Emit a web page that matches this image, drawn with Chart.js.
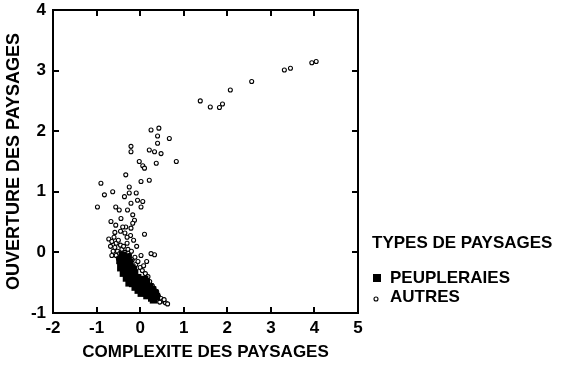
<!DOCTYPE html>
<html>
<head>
<meta charset="utf-8">
<script src="https://cdn.jsdelivr.net/npm/chart.js@4/dist/chart.umd.min.js"></script>
<style>
  html, body { margin: 0; padding: 0; background: #fff; }
  #wrap { width: 563px; height: 366px; }
</style>
</head>
<body>
<div id="wrap"><canvas id="chart" width="563" height="366"></canvas></div>
<script>
// axis ranges and tick values
const X_TICKS = [-2, -1, 0, 1, 2, 3, 4, 5];
const Y_TICKS = [-1, 0, 1, 2, 3, 4];

const LEGEND_TITLE = 'TYPES DE PAYSAGES';
const SERIES_NAMES = ['PEUPLERAIES', 'AUTRES'];

// peupleraies (filled squares)
const peupX = [-0.40, -0.34, -0.46, -0.28, -0.40, -0.32, -0.24, -0.44, -0.35, -0.27, -0.19, -0.38,
    -0.29, -0.21, -0.13, -0.31, -0.23, -0.14, -0.06, -0.25, -0.17, -0.07, 0.02, -0.11,
    -0.01, 0.08, 0.14, -0.04, 0.06, 0.14, 0.22, 0.03, 0.12, 0.20, 0.28, 0.16, 0.25,
    0.33, 0.27, 0.37, 0.04, -0.20, -0.36, -0.16, 0.10, 0.31];
const peupY = [-0.05, -0.09, -0.13, -0.08, -0.19, -0.21, -0.17, -0.25, -0.28, -0.30, -0.26, -0.34,
    -0.36, -0.38, -0.34, -0.42, -0.44, -0.45, -0.42, -0.50, -0.51, -0.50, -0.47, -0.57,
    -0.56, -0.54, -0.50, -0.62, -0.61, -0.60, -0.57, -0.67, -0.66, -0.64, -0.62, -0.71, -0.69,
    -0.67, -0.75, -0.73, -0.58, -0.42, -0.16, -0.30, -0.45, -0.78];

// autres (open circles)
const autX = [1.38, 1.61, 1.82, 1.89, 2.07, 2.56, 3.31, 3.45, 3.94, 4.04,
    0.25, 0.43, 0.40, 0.67, 0.40, -0.21, -0.21, 0.21, 0.33, 0.48, -0.02, 0.06, 0.83, 0.37,
    0.10, -0.33, 0.02, -0.90, -0.82, -0.63, -0.25, -0.25, -0.36, -0.09, -0.06, 0.06,
    -0.98, -0.56, -0.48, -0.29, -0.21, -0.17, 0.02, -0.44, -0.13, -0.56, -0.33, -0.21,
    -0.67, -0.17, 0.21,
    -0.72, -0.65, -0.60, -0.55, -0.68, -0.58, -0.50, -0.45, -0.62, -0.52, -0.42, -0.55,
    -0.47, -0.38, -0.35, -0.30, -0.28, -0.25, -0.20, -0.18, -0.12, -0.10, -0.05, 0.00,
    0.05, 0.08, 0.12, 0.18, 0.22, 0.28, 0.32, 0.38, 0.42, 0.48, 0.52, 0.58, 0.63, 0.55,
    0.45, -0.15, -0.22, -0.35, -0.45, -0.30, -0.58, -0.40, 0.10, 0.33, 0.25, -0.08,
    -0.65, -0.50, 0.15, 0.02];
const autY = [2.50, 2.40, 2.39, 2.45, 2.68, 2.82, 3.01, 3.04, 3.13, 3.15,
    2.02, 2.05, 1.92, 1.88, 1.80, 1.75, 1.66, 1.69, 1.66, 1.63, 1.50, 1.43, 1.50, 1.47,
    1.39, 1.28, 1.17, 1.14, 0.95, 1.00, 1.08, 0.98, 0.92, 0.98, 0.86, 0.84,
    0.75, 0.75, 0.70, 0.70, 0.81, 0.62, 0.75, 0.56, 0.53, 0.45, 0.42, 0.40,
    0.51, 0.48, 1.19,
    0.22, 0.18, 0.25, 0.15, 0.10, 0.08, 0.20, 0.12, 0.02, 0.02, 0.05, -0.05,
    -0.02, 0.10, 0.00, 0.15, 0.05, -0.05, 0.02, -0.12, -0.08, -0.20, -0.15, -0.25,
    -0.30, -0.22, -0.35, -0.40, -0.48, -0.55, -0.60, -0.65, -0.72, -0.76, -0.80, -0.83, -0.85, -0.78,
    -0.82, 0.20, 0.28, 0.32, 0.35, 0.25, 0.33, 0.42, 0.30, -0.04, -0.02, 0.10,
    -0.05, -0.10, -0.15, -0.05];

function toPoints(xs, ys) {
    return xs.map((x, i) => ({ x, y: ys[i] }));
}

const FONT = "'Liberation Sans', Arial, sans-serif";

// inward ticks on all four sides plus the frame
const framePlugin = {
    id: 'frame',
    afterDraw(chart) {
        const { ctx, chartArea: a, scales } = chart;
        const len = 6;
        ctx.save();
        ctx.strokeStyle = '#000';
        ctx.lineWidth = 2;
        ctx.strokeRect(a.left, a.top, a.right - a.left, a.bottom - a.top);
        ctx.beginPath();
        X_TICKS.forEach((v) => {
            const px = Math.round(scales.x.getPixelForValue(v));
            ctx.moveTo(px, a.bottom); ctx.lineTo(px, a.bottom - len);
            ctx.moveTo(px, a.top); ctx.lineTo(px, a.top + len);
        });
        Y_TICKS.forEach((v) => {
            const py = Math.round(scales.y.getPixelForValue(v));
            ctx.moveTo(a.left, py); ctx.lineTo(a.left + len, py);
            ctx.moveTo(a.right, py); ctx.lineTo(a.right - len, py);
        });
        ctx.stroke();
        ctx.restore();
    },
};

// legend at the right of the plot
const legendPlugin = {
    id: 'sideLegend',
    afterDraw(chart) {
        const { ctx } = chart;
        const x0 = chart.chartArea.right + 14;
        ctx.save();
        ctx.fillStyle = '#000';
        ctx.textBaseline = 'middle';
        ctx.font = `bold 17px ${FONT}`;
        ctx.fillText(LEGEND_TITLE, x0, 243);
        ctx.fillText(SERIES_NAMES[0], x0 + 18, 278);
        ctx.fillText(SERIES_NAMES[1], x0 + 18, 297);
        ctx.fillRect(x0 + 1, 274, 8, 8);
        ctx.lineWidth = 1.1;
        ctx.beginPath();
        ctx.arc(x0 + 4, 299, 2, 0, Math.PI * 2);
        ctx.stroke();
        ctx.restore();
    },
};

new Chart(document.getElementById('chart'), {
    type: 'scatter',
    data: {
        datasets: [
            {
                label: SERIES_NAMES[0],
                data: toPoints(peupX, peupY),
                pointStyle: 'rect',
                pointRadius: 5.5,
                backgroundColor: '#000',
                borderColor: '#000',
                borderWidth: 0,
            },
            {
                label: SERIES_NAMES[1],
                data: toPoints(autX, autY),
                pointStyle: 'circle',
                pointRadius: 2,
                backgroundColor: '#fff',
                borderColor: '#000',
                borderWidth: 1.1,
            },
        ],
    },
    options: {
        responsive: false,
        animation: false,
        events: [],
        layout: { padding: { top: 10, right: 205, left: 0, bottom: 0 } },
        plugins: { legend: { display: false }, tooltip: { enabled: false } },
        scales: {
            x: {
                type: 'linear',
                min: -2, max: 5,
                afterBuildTicks: (s) => { s.ticks = X_TICKS.map((v) => ({ value: v })); },
                afterFit: (s) => { s.height = 53; s.paddingLeft = 0; s.paddingRight = 0; },
                grid: { display: false, drawTicks: false },
                border: { display: false },
                ticks: { color: '#000', padding: 5, font: { family: FONT, size: 17, weight: 'bold' } },
                title: {
                    display: true,
                    text: 'COMPLEXITE DES PAYSAGES',
                    color: '#000',
                    padding: { top: 0, bottom: 3 },
                    font: { family: FONT, size: 17, weight: 'bold' },
                },
            },
            y: {
                type: 'linear',
                min: -1, max: 4,
                afterBuildTicks: (s) => { s.ticks = Y_TICKS.map((v) => ({ value: v })); },
                afterFit: (s) => { s.width = 53; s.paddingTop = 0; s.paddingBottom = 0; },
                grid: { display: false, drawTicks: false },
                border: { display: false },
                ticks: { color: '#000', padding: 7, font: { family: FONT, size: 17, weight: 'bold' } },
                title: {
                    display: true,
                    text: 'OUVERTURE DES PAYSAGES',
                    color: '#000',
                    padding: { top: 3, bottom: 0 },
                    font: { family: FONT, size: 18, weight: 'bold' },
                },
            },
        },
    },
    plugins: [framePlugin, legendPlugin],
});
</script>
</body>
</html>
